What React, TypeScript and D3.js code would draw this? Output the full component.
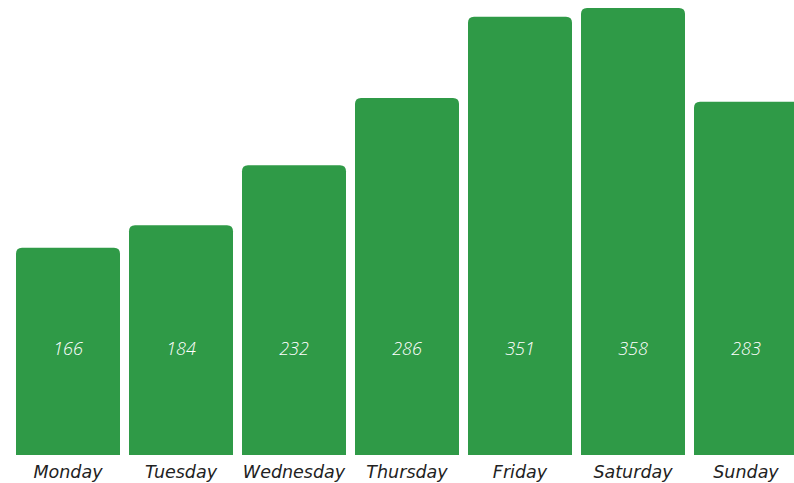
import React from "react";
import * as d3 from "d3";

const width = 794;
const height = 483;
const margin = { top: 8, right: 0, bottom: 28, left: 16 };

const days = ["Monday", "Tuesday", "Wednesday", "Thursday", "Friday", "Saturday", "Sunday"];
const visits = [166, 184, 232, 286, 351, 358, 283];

const barColor = "#2f9a47";
const radius = 6;

// bar with rounded top corners only
const topRoundedBar = (x: number, y: number, w: number, h: number, r: number) =>
  `M${x},${y + h}V${y + r}Q${x},${y} ${x + r},${y}H${x + w - r}Q${x + w},${y} ${x + w},${y + r}V${y + h}Z`;

export default function App() {
  const xScale = d3
    .scaleBand<string>()
    .domain(days)
    .range([margin.left, 798])
    .paddingInner(9 / 113)
    .paddingOuter(0);

  const yScale = d3
    .scaleLinear()
    .domain([0, d3.max(visits) as number])
    .range([height - margin.bottom, margin.top]);

  const baseline = yScale(0);
  const bw = xScale.bandwidth();

  return (
    <svg
      width={width}
      height={height}
      style={{ position: "fixed", left: 0, top: 0, background: "#fff" }}
      fontFamily="'DejaVu Sans', sans-serif"
    >
      {days.map((day, i) => {
        const x = xScale(day) as number;
        const y = yScale(visits[i]);
        return (
          <g key={day}>
            <path d={topRoundedBar(x, y, bw, baseline - y, radius)} fill={barColor} />
            <text
              x={x + bw / 2}
              y={354.5}
              textAnchor="middle"
              fill="#fff"
              fontSize={18}
              fontStyle="italic"
              fontWeight={300}
              fontFamily="'Open Sans', sans-serif"
            >
              {visits[i]}
            </text>
            <text
              x={x + bw / 2}
              y={478}
              textAnchor="middle"
              fill="#222"
              fontSize={17.5}
              fontStyle="italic"
            >
              {day}
            </text>
          </g>
        );
      })}
    </svg>
  );
}
